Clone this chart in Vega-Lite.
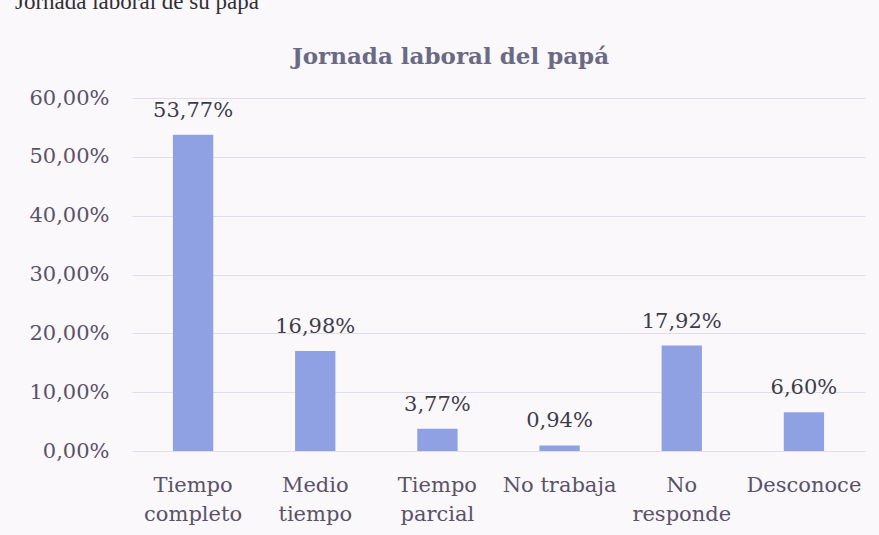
{
  "$schema": "https://vega.github.io/schema/vega-lite/v6.json",
  "width": 733,
  "height": 353,
  "autosize": {"type": "none"},
  "padding": {"left": 132, "top": 98, "right": 14, "bottom": 84},
  "background": "#fbf8fc",
  "config": {
    "locale": {"number": {"decimal": ",", "thousands": ".", "grouping": [3], "currency": ["", " €"]}},
    "view": {"stroke": null}
  },
  "title": {
    "text": "Jornada laboral de su papá",
    "anchor": "start",
    "frame": "bounds",
    "orient": "top",
    "font": "Liberation Serif",
    "fontSize": 23,
    "fontWeight": "normal",
    "color": "#2f2f35",
    "baseline": "alphabetic",
    "offset": 13,
    "dx": -14
  },
  "data": {
    "values": [
      {"cat": "Tiempo completo", "value": 0.5377},
      {"cat": "Medio tiempo", "value": 0.1698},
      {"cat": "Tiempo parcial", "value": 0.0377},
      {"cat": "No trabaja", "value": 0.0094},
      {"cat": "No responde", "value": 0.1792},
      {"cat": "Desconoce", "value": 0.066}
    ]
  },
  "encoding": {
    "x": {
      "field": "cat",
      "type": "nominal",
      "sort": null,
      "scale": {"paddingInner": 0.67, "paddingOuter": 0.335},
      "axis": {
        "title": null,
        "labelAngle": 0,
        "domain": false,
        "ticks": false,
        "labelFont": "DejaVu Serif",
        "labelFontSize": 21,
        "labelColor": "#5a5268",
        "labelBaseline": "alphabetic",
        "labelPadding": 40,
        "labelLineHeight": 29,
        "labelExpr": "datum.label == 'No trabaja' ? datum.label : split(datum.label, ' ')"
      }
    },
    "y": {
      "field": "value",
      "type": "quantitative",
      "scale": {"domain": [0, 0.6], "nice": false},
      "axis": {
        "values": [0, 0.1, 0.2, 0.3, 0.4, 0.5, 0.6],
        "format": ".2%",
        "domain": false,
        "ticks": false,
        "gridColor": "#e2dde9",
        "gridWidth": 1,
        "labelFont": "DejaVu Serif",
        "labelFontSize": 21,
        "labelColor": "#5a5268",
        "labelPadding": 23,
        "title": "Jornada laboral del papá",
        "titleFont": "DejaVu Serif",
        "titleFontSize": 23,
        "titleFontWeight": "bold",
        "titleColor": "#6b6a85",
        "titleAngle": 0,
        "titleX": 318,
        "titleY": -35,
        "titleAlign": "center",
        "titleBaseline": "alphabetic"
      }
    }
  },
  "layer": [
    {"mark": {"type": "bar", "color": "#8fa0e3"}},
    {
      "mark": {"type": "text", "font": "DejaVu Serif", "fontSize": 21, "color": "#3d3d48", "baseline": "alphabetic", "dy": -18},
      "encoding": {"text": {"field": "value", "type": "quantitative", "format": ".2%"}}
    }
  ]
}
